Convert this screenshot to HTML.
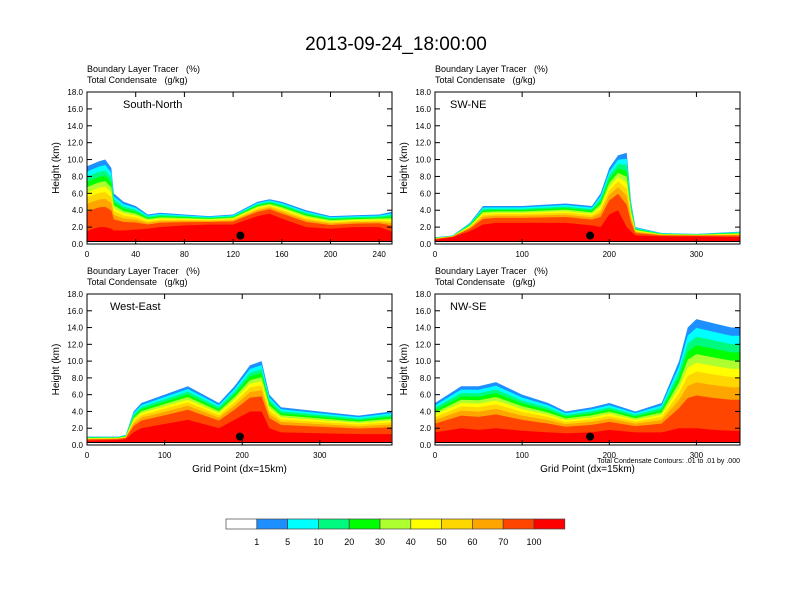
<!DOCTYPE html>
<html><head><meta charset="utf-8"><style>
body{margin:0;background:#fff;width:792px;height:612px;overflow:hidden}
svg{display:block;font-family:"Liberation Sans",sans-serif}
text{white-space:pre}
</style></head><body>
<svg id="c" width="792" height="612" xmlns="http://www.w3.org/2000/svg">
<text x="396" y="50" text-anchor="middle" font-size="19">2013-09-24_18:00:00</text>
</svg>
<script>
const NS="http://www.w3.org/2000/svg";
const svg=document.getElementById('c');
const colors=["#ffffff","#1e8fff","#00ffff","#00fa7f","#00ff00","#adff2f","#ffff00","#ffd700","#ffa500","#ff4500","#ff0000"];
const cbLabels=["1","5","10","20","30","40","50","60","70","100"];
// panel data
const p1X=[0,5,10,15,20,22,30,40,50,60,80,100,120,140,150,160,180,200,220,240,250];
const p1Top=[9.2,9.5,9.8,10,9,6,5,4.5,3.5,3.7,3.5,3.3,3.5,5,5.3,5,4,3.3,3.4,3.5,3.8];
const p1Red=[1.5,1.8,2,2,1.8,1.6,1.6,1.7,1.8,2,2.2,2.3,2.3,3.3,3.6,3,2,1.8,2,2,1.5];
const p2X=[0,20,40,55,70,100,150,180,190,200,210,220,225,230,260,300,355];
const p2Top=[0.8,1,2.5,4.5,4.5,4.5,4.8,4.5,6,9,10.5,10.8,5,2,1.3,1.2,1.5];
const p2Red=[0.5,0.8,1.5,2.3,2.5,2.5,2.5,2.2,2,3.5,4,2,1.5,1,0.9,0.9,0.8];
const p3X=[0,40,50,60,70,100,130,150,170,190,210,225,235,250,300,350,392];
const p3Top=[1,1,1.2,4,5,6,7,6,5,7,9.5,10,6,4.5,4,3.5,4];
const p3Red=[0.5,0.6,0.7,1.5,2,2.5,3,2.5,2,3,4,4,2,1.5,1.4,1.3,1.3];
const p4X=[0,30,50,70,100,130,150,180,200,230,260,280,290,300,320,340,355];
const p4Top=[5,7,7,7.5,6,5,4,4.5,5,4,5,10,14,15,14.5,14,14];
const p4Red=[1.5,2,1.8,2,1.7,1.5,1.4,1.5,1.8,1.5,1.5,2,2,2,1.8,1.7,1.7];
const panels=[
 {x0:87,x1:392,y0:92,y1:244,xmax:250.5,ticks:[0,40,80,120,160,200,240],X:p1X,T:p1Top,R:p1Red,name:"South-North",nm:"south-north"},
 {x0:435,x1:740,y0:92,y1:244,xmax:350,ticks:[0,100,200,300],X:p2X,T:p2Top,R:p2Red,name:"SW-NE",nm:"sw-ne"},
 {x0:87,x1:392,y0:294,y1:445,xmax:393,ticks:[0,100,200,300],X:p3X,T:p3Top,R:p3Red,name:"West-East",nm:"west-east",xl:true},
 {x0:435,x1:740,y0:294,y1:445,xmax:350,ticks:[0,100,200,300],X:p4X,T:p4Top,R:p4Red,name:"NW-SE",nm:"nw-se",xl:true,note:true}
];
const wts=[0.3,0.12,0.1,0.08,0.08,0.08,0.08,0.08,0.08];
function el(t,a,p){const e=document.createElementNS(NS,t);for(const k in a)e.setAttribute(k,a[k]);(p||svg).appendChild(e);return e;}
const defs=el('defs',{});
panels.forEach((P,pi)=>{
 const cp=el('clipPath',{id:'cp'+pi},defs);
 el('rect',{x:P.x0,y:P.y0,width:P.x1-P.x0,height:P.y1-P.y0},cp);
 const g=el('g',{});
 
 
 const fg=el('g',{'clip-path':'url(#cp'+pi+')'},g);
 const sx=v=>P.x0+(P.x1-P.x0)*v/P.xmax;
 const sy=v=>P.y1-(P.y1-P.y0)*v/18;
 const bandCols=[colors[1],colors[2],colors[3],colors[4],colors[5],colors[6],colors[7],colors[8],colors[9]];
 const w=wts.slice().reverse();
 let fr=0;
 for(let b=0;b<=9;b++){
  const col=b<9?bandCols[b]:colors[10];
  let pts=[];
  P.X.forEach((x,i)=>{const r=P.R[i],t=P.T[i];const h=t-(t-r)*fr;pts.push(sx(x)+','+sy(h));});
  pts.push(sx(P.X[P.X.length-1])+','+sy(0.3));pts.push(sx(P.X[0])+','+sy(0.3));
  const poly=el('polygon',{points:pts.join(' '),fill:col},fg);
  
  
  if(b<9)fr+=w[b];
 }
 const tr=el('rect',{x:P.x0,y:sy(0.3),width:P.x1-P.x0,height:P.y1-sy(0.3),fill:'#fff'},fg);
 
 el('line',{x1:P.x0,x2:P.x1,y1:sy(0.3),y2:sy(0.3),stroke:'#000','stroke-width':1},fg);
 el('rect',{x:P.x0,y:P.y0,width:P.x1-P.x0,height:P.y1-P.y0,fill:'none',stroke:'#000','stroke-width':1},g);
 for(let v=0;v<=18;v+=2){
  el('line',{x1:P.x0,x2:P.x0+5,y1:sy(v),y2:sy(v),stroke:'#000'},g);
  el('line',{x1:P.x1,x2:P.x1-5,y1:sy(v),y2:sy(v),stroke:'#000'},g);
  const t=el('text',{x:P.x0-4,y:sy(v)+3,'font-size':8,'text-anchor':'end'},g);t.textContent=v.toFixed(1);
  
 }
 P.ticks.forEach(v=>{
  el('line',{x1:sx(v),x2:sx(v),y1:P.y1,y2:P.y1-5,stroke:'#000'},g);
  el('line',{x1:sx(v),x2:sx(v),y1:P.y0,y2:P.y0+5,stroke:'#000'},g);
  const t=el('text',{x:sx(v),y:P.y1+13,'font-size':8,'text-anchor':'middle'},g);t.textContent=v;
  
 });
 const yt=el('text',{transform:`translate(${P.x0-28},${(P.y0+P.y1)/2}) rotate(-90)`,'font-size':10,'text-anchor':'middle'},g);yt.textContent='Height (km)';
 
 const t1=el('text',{x:P.x0,y:P.y0-20,'font-size':9},g);t1.textContent='Boundary Layer Tracer   (%)';
 
 const t2=el('text',{x:P.x0,y:P.y0-9,'font-size':9},g);t2.textContent='Total Condensate   (g/kg)';
 
 const nm=el('text',{x:P.x0+(pi==0?36:(pi==2?23:15)),y:P.y0+16,'font-size':11},g);nm.textContent=P.name;
 
 if(P.xl){const xt=el('text',{x:(P.x0+P.x1)/2,y:P.y1+27,'font-size':10,'text-anchor':'middle'},g);xt.textContent='Grid Point (dx=15km)';
  }
 if(P.note){const n=el('text',{x:P.x1,y:P.y1+18,'font-size':7,'text-anchor':'end'},g);n.textContent='Total Condensate Contours: .01 to .01 by .000';
  }
 const dot=el('circle',{cx:sx(pi==0?126:(pi==1?178:(pi==2?197:178))),cy:sy(1),r:4,fill:'#000'},g);
 
});
const cb=el('g',{});

colors.forEach((c,i)=>{const r=el('rect',{x:226+i*30.8,y:519,width:30.8,height:10,fill:c,stroke:'#444','stroke-width':0.7},cb);
 });
cbLabels.forEach((l,i)=>{const t=el('text',{x:226+(i+1)*30.8,y:545,'font-size':9,'text-anchor':'middle'},cb);t.textContent=l;
 });
</script>
</body></html>
